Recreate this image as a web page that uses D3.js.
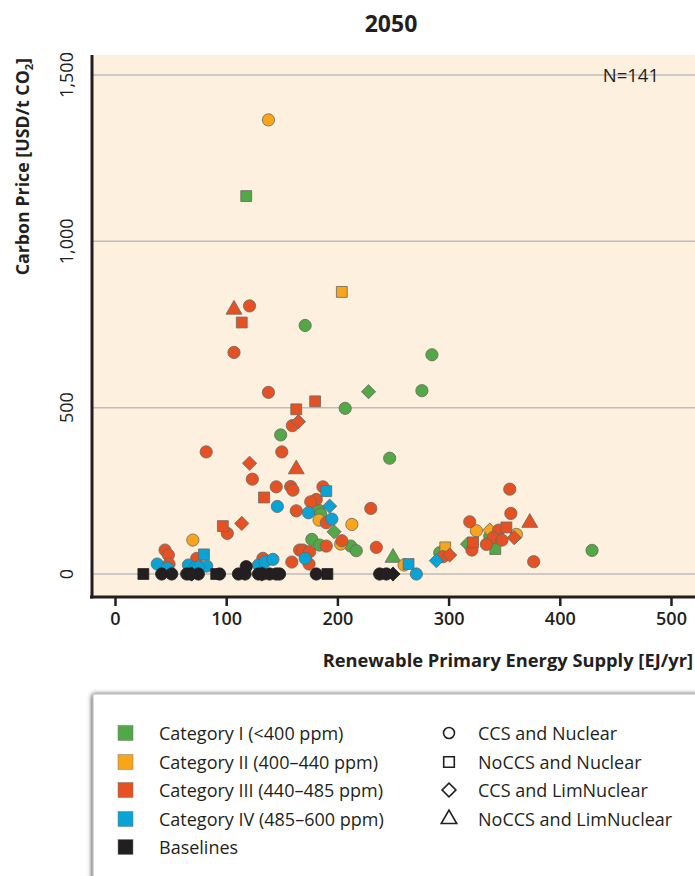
<!DOCTYPE html>
<html><head><meta charset="utf-8">
<script src="https://cdn.jsdelivr.net/npm/d3@7"></script>
<style>
body{margin:0;background:#fff;}
svg{display:block;font-family:"Open Sans",sans-serif;}
</style></head>
<body>
<svg id="chart" width="695" height="876"></svg>
<script>
// ---- data ----
const categories = ["Category I (<400 ppm)","Category II (400\u2013440 ppm)","Category III (440\u2013485 ppm)","Category IV (485\u2013600 ppm)","Baselines"];
const categoryColors = ["#52a847","#f9a51b","#e65124","#0aa3d5","#231f20"];
const shapes = ["CCS and Nuclear","NoCCS and Nuclear","CCS and LimNuclear","NoCCS and LimNuclear"];
const shapeCodes = ["c","s","d","t"];
const xTicks = [0,100,200,300,400,500];
const yTicks = [0,500,1000,1500];
const yTickLabels = ["0","500","1,000","1,500"];

// [renewable EJ/yr, carbon price USD/tCO2, scenario type]
const catI = [
 [171,747,"c"],[285,659,"c"],[207,498,"c"],[276,551,"c"],[149,418,"c"],[247,348,"c"],
 [183,192,"c"],[185,180,"c"],[177,104,"c"],[184,87,"c"],[212,84,"c"],[217,70,"c"],
 [292,64,"c"],[337,114,"c"],[429,71,"c"],
 [118,1136,"s"],[342,75,"s"],
 [228,548,"d"],[197,127,"d"],[317,90,"d"],
 [250,52,"t"]
];
const catII = [
 [138,1365,"c"],[70,102,"c"],[183.5,162,"c"],[213,149,"c"],[203,90,"c"],[260,27,"c"],
 [325,130,"c"],[361,119,"c"],
 [204,848,"s"],[297,80,"s"],
 [337,132,"d"]
];
const catIII = [
 [121,806,"c"],[107,666,"c"],[138,546,"c"],[159.5,446,"c"],[82,367,"c"],[150,367,"c"],
 [123.5,285,"c"],[145,262,"c"],[158,263,"c"],[160,252,"c"],[163,190,"c"],[101,122,"c"],
 [45,72,"c"],[48,57,"c"],[48.6,30,"c"],[73.5,47,"c"],[133,47,"c"],[159,36,"c"],
 [166,72,"c"],[187,262,"c"],[181,224,"c"],[176,217,"c"],[190,154,"c"],[230,197,"c"],
 [190,84,"c"],[204,100,"c"],[235,80,"c"],[169,72,"c"],[175,67,"c"],[174.5,30,"c"],
 [295,52,"c"],[319,157,"c"],[321,72,"c"],[355,255,"c"],[356,182,"c"],[345,132,"c"],
 [340,109,"c"],[348,102,"c"],[334,89,"c"],[376.5,37,"c"],
 [114,756,"s"],[163,495,"s"],[180,519,"s"],[134,230,"s"],[97,144,"s"],[322,95,"s"],[352,140,"s"],
 [165,458,"d"],[121,333,"d"],[114,152,"d"],[301,57,"d"],[359,109,"d"],
 [107,798,"t"],[163,318,"t"],[373,157,"t"]
];
const catIV = [
 [146,203,"c"],[38,30,"c"],[47,18,"c"],[66,27,"c"],[72,20,"c"],[82.5,24,"c"],[129,27,"c"],
 [135,37,"c"],[142,44,"c"],[174,184,"c"],[195,165,"c"],[171,47,"c"],[271,0,"c"],
 [80,59,"s"],[190,249,"s"],[264,30,"s"],
 [75,22,"d"],[193,204,"d"],[289,40,"d"]
];
const baselines = [
 [42,0,"c"],[51,0,"c"],[64.5,0,"c"],[68,0,"c"],[75,0,"c"],[94,0,"c"],[111,0,"c"],[117,0,"c"],
 [118,22,"c"],[129,0,"c"],[133,0,"c"],[139,0,"c"],[145,0,"c"],[148,0,"c"],[181,0,"c"],
 [238,0,"c"],[244,0,"c"],
 [25.5,0,"s"],[91,0,"s"],[191,0,"s"],
 [250,0,"d"],[69,0,"d"],[132,0,"d"]
];
const seriesData = [catI, catII, catIII, catIV, baselines];

// ---- drawing ----
const svg = d3.select("#chart");
const x = d3.scaleLinear().domain([0,500]).range([115,671]);
const y = d3.scaleLinear().domain([0,1500]).range([574,75]);
const ink = "#231f20";

// title
svg.append("text").attr("x",391).attr("y",32).attr("text-anchor","middle")
  .attr("font-size",23).attr("font-weight","bold").attr("fill",ink).text("2050");

// plot background
svg.append("rect").attr("x",93).attr("y",55).attr("width",602).attr("height",541).attr("fill","#fdf0df");

// gridlines
svg.append("g").selectAll("line").data(yTicks).join("line")
  .attr("x1",93).attr("x2",695).attr("y1",d=>y(d)).attr("y2",d=>y(d))
  .attr("stroke","#bdbdbd").attr("stroke-width",1.5);

// N label
svg.append("text").attr("x",659).attr("y",82).attr("text-anchor","end")
  .attr("font-size",18.5).attr("fill",ink).text("N=141");

// axes
const xAxis = d3.axisBottom(x).tickValues(xTicks).tickSize(9).tickPadding(6).tickFormat(d3.format("d"));
const gx = svg.append("g").attr("transform","translate(0,597)").call(xAxis);
gx.select(".domain").remove();
gx.selectAll(".tick line").attr("stroke",ink).attr("stroke-width",2.5);
gx.selectAll(".tick text").attr("font-size",18).attr("font-weight","600").attr("fill",ink)
  .attr("font-family","'Open Sans',sans-serif").attr("dy","0.72em");

svg.append("line").attr("x1",90).attr("x2",695).attr("y1",597).attr("y2",597)
  .attr("stroke",ink).attr("stroke-width",3);
svg.append("line").attr("x1",92).attr("x2",92).attr("y1",55).attr("y2",598.5)
  .attr("stroke",ink).attr("stroke-width",3);

// y tick labels (rotated)
svg.append("g").selectAll("text").data(yTicks).join("text")
  .attr("transform",d=>`translate(73,${y(d)}) rotate(-90)`)
  .attr("text-anchor","middle").attr("font-size",18).attr("fill",ink)
  .text((d,i)=>yTickLabels[i]);

// axis titles
svg.append("text").attr("x",693).attr("y",667).attr("text-anchor","end")
  .attr("font-size",18.3).attr("font-weight","bold").attr("fill",ink)
  .text("Renewable Primary Energy Supply [EJ/yr]");
const yt = svg.append("text").attr("transform","translate(29,58) rotate(-90)")
  .attr("text-anchor","end").attr("font-size",17.8).attr("font-weight","bold").attr("fill",ink);
yt.append("tspan").text("Carbon Price [USD/t CO");
yt.append("tspan").attr("font-size",11).attr("dy",4).text("2");
yt.append("tspan").attr("dy",-4).text("]");

// symbols
function symbolPath(code, scale){
  const k = scale||1;
  if(code==="c") return d3.symbol().type(d3.symbolCircle).size(118*k)();
  if(code==="s") return d3.symbol().type(d3.symbolSquare).size(118*k)();
  if(code==="d") return d3.symbol().type(d3.symbolSquare).size(100*k)();
  return d3.symbol().type(d3.symbolTriangle).size(110*k)();
}
const gp = svg.append("g");
seriesData.forEach((arr,ci)=>{
  gp.append("g").selectAll("path").data(arr).join("path")
    .attr("d",d=>symbolPath(d[2]))
    .attr("transform",d=>`translate(${x(d[0])},${y(d[1])})${d[2]==="d"?" rotate(45)":""}${d[2]==="t"?" translate(0,1)":""}`)
    .attr("fill",categoryColors[ci])
    .attr("stroke",ci===4?ink:"#6b6660").attr("stroke-width",0.8);
});

// legend
const defs = svg.append("defs");
const f = defs.append("filter").attr("id","sh").attr("x","-10%").attr("y","-10%").attr("width","120%").attr("height","130%");
f.append("feGaussianBlur").attr("in","SourceAlpha").attr("stdDeviation",2.5);
f.append("feOffset").attr("dx",0).attr("dy",1).attr("result","b");
const fm = f.append("feMerge"); fm.append("feMergeNode").attr("in","b"); fm.append("feMergeNode").attr("in","SourceGraphic");
svg.append("rect").attr("x",93).attr("y",694).attr("width",620).attr("height",200)
  .attr("fill","#fff").attr("stroke","#b5b5b5").attr("stroke-width",1).attr("filter","url(#sh)");

const rowY = [733,762,790,819,847];
const lg = svg.append("g");
categories.forEach((c,i)=>{
  lg.append("rect").attr("x",118).attr("y",rowY[i]-7.5).attr("width",15).attr("height",15)
    .attr("fill",categoryColors[i]).attr("stroke","#777").attr("stroke-width",0.5);
  lg.append("text").attr("x",159).attr("y",rowY[i]+6.5).attr("font-size",18).attr("fill",ink).text(c);
});
shapes.forEach((s,i)=>{
  const code = shapeCodes[i];
  lg.append("path").attr("d",symbolPath(code,code==="c"?0.8:0.95))
    .attr("transform",`translate(449,${rowY[i]})${code==="d"?" rotate(45)":""}`)
    .attr("fill","none").attr("stroke",ink).attr("stroke-width",1.6);
  lg.append("text").attr("x",478).attr("y",rowY[i]+6.5).attr("font-size",18).attr("fill",ink).text(s);
});
</script>
</body></html>
